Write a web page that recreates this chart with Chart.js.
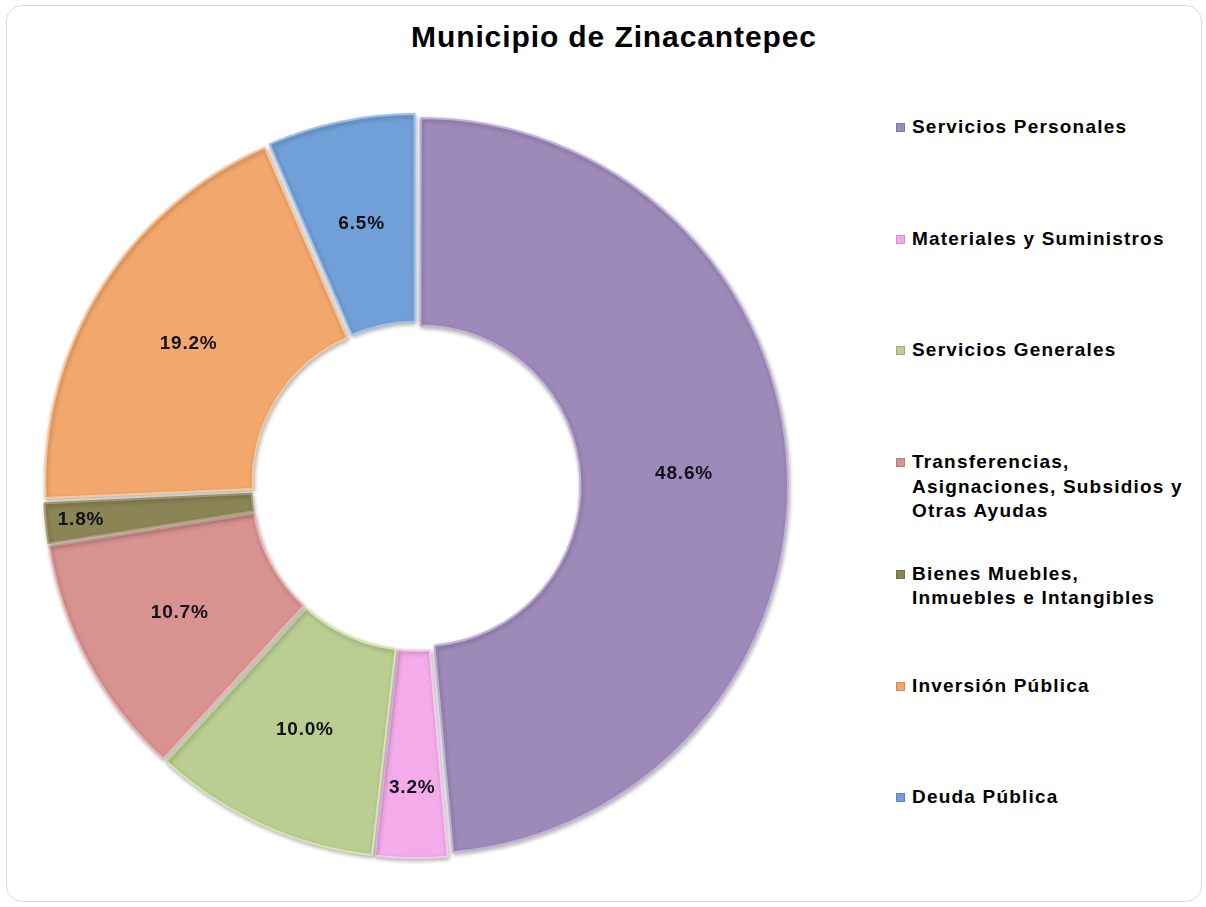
<!DOCTYPE html>
<html lang="es">
<head>
    <meta charset="UTF-8">
    <title>Municipio de Zinacantepec</title>
    <style>
        body {
            margin: 0;
            padding: 0;
            background-color: #ffffff;
            font-family: 'Liberation Sans', Arial, sans-serif;
            overflow: hidden;
        }
        .frame {
            position: absolute;
            left: 6px;
            top: 5px;
            width: 1196px;
            height: 897px;
            border: 1px solid #dcdcd6;
            border-radius: 16px;
            box-sizing: border-box;
        }
        #titulo {
            position: absolute;
            left: 0;
            width: 1228px;
            top: 20px;
            text-align: center;
            font-size: 30px;
            font-weight: bold;
            letter-spacing: 0.9px;
            color: #000;
        }
        #grafica {
            position: absolute;
            left: 0;
            top: 0;
        }
        #leyenda {
            position: absolute;
            left: 896px;
            top: 0;
        }
        .item {
            position: absolute;
            left: 0;
            width: 310px;
            font-size: 19px;
            font-weight: bold;
            letter-spacing: 1.2px;
            line-height: 24.5px;
            color: #000;
            white-space: nowrap;
        }
        .item .marca {
            position: absolute;
            left: 0;
            top: 8px;
            width: 9px;
            height: 9px;
            box-sizing: border-box;
            border: 1px solid rgba(0,0,0,0.15);
        }
        .item .texto {
            position: absolute;
            left: 16px;
            top: 0;
        }
    </style>
</head>
<body>
    <div class="frame"></div>
    <div id="titulo"></div>
    <canvas id="grafica" width="840" height="907"></canvas>
    <div id="leyenda"></div>

    <script src="https://cdn.jsdelivr.net/npm/chart.js"></script>
    <script>
        // Datos de la grafica
        const titulo = 'Municipio de Zinacantepec';
        const categorias = [
            ['Servicios Personales'],
            ['Materiales y Suministros'],
            ['Servicios Generales'],
            ['Transferencias,', 'Asignaciones, Subsidios y', 'Otras Ayudas'],
            ['Bienes Muebles,', 'Inmuebles e Intangibles'],
            ['Inversión Pública'],
            ['Deuda Pública']
        ];
        const porcentajes = [48.6, 3.2, 10.0, 10.7, 1.8, 19.2, 6.5];
        const colores = ['#9e8ab9', '#f3abe9', '#bbce91', '#d89290', '#8b8455', '#f2a76c', '#719fd7'];
        const bordes = ['#c2b0dc', '#f9c8f2', '#d6e6b0', '#ecb3b1', '#a9a070', '#f8c79e', '#9cc0ec'];

        // separacion deseada de cada rebanada, en pixeles
        const separacion = 8;

        document.getElementById('titulo').textContent = titulo;

        // Leyenda en HTML (texto en varias lineas)
        const leyenda = document.getElementById('leyenda');
        categorias.forEach(function(lineas, i) {
            const item = document.createElement('div');
            item.className = 'item';
            item.style.top = (115 + i * 111.7) + 'px';
            const marca = document.createElement('span');
            marca.className = 'marca';
            marca.style.backgroundColor = colores[i];
            const texto = document.createElement('span');
            texto.className = 'texto';
            texto.innerHTML = lineas.join('<br>');
            item.appendChild(marca);
            item.appendChild(texto);
            leyenda.appendChild(item);
        });

        // Chart.js v4 desplaza offset/4 * (1 + fix); se corrige para que todas se separen igual
        function offsetArco(c) {
            const total = porcentajes.reduce(function(a, b) { return a + b; }, 0);
            const circ = porcentajes[c.dataIndex] / total * Math.PI * 2;
            const fix = 1 - Math.sin(Math.min(Math.PI, circ));
            return 4 * separacion / (1 + fix);
        }

        // Sombra suave para las rebanadas
        const sombra = {
            id: 'sombra',
            beforeDatasetsDraw(chart) {
                const ctx = chart.ctx;
                ctx.save();
                ctx.shadowColor = 'rgba(0,0,0,0.28)';
                ctx.shadowBlur = 4;
                ctx.shadowOffsetX = 1;
                ctx.shadowOffsetY = 2;
            },
            afterDatasetsDraw(chart) {
                chart.ctx.restore();
            }
        };

        // Etiquetas de porcentaje
        const etiquetas = {
            id: 'etiquetas',
            afterDatasetsDraw(chart) {
                const ctx = chart.ctx;
                const meta = chart.getDatasetMeta(0);
                ctx.save();
                ctx.font = 'bold 19px "Liberation Sans", Arial, sans-serif';
                if ('letterSpacing' in ctx) ctx.letterSpacing = '0.8px';
                ctx.fillStyle = '#10101c';
                ctx.textAlign = 'center';
                ctx.textBaseline = 'middle';
                meta.data.forEach(function(arc, i) {
                    const p = arc.getProps(['x', 'y', 'startAngle', 'endAngle', 'innerRadius', 'outerRadius']);
                    const v = porcentajes[i];
                    // las rebanadas chicas llevan la etiqueta hacia fuera
                    const f = v < 2.5 ? 0.83 : (v < 5 ? 0.66 : 0.5);
                    const medio = (p.startAngle + p.endAngle) / 2;
                    const r = p.innerRadius + f * (p.outerRadius - p.innerRadius) + separacion;
                    ctx.fillText(v.toFixed(1) + '%', p.x + Math.cos(medio) * r, p.y + Math.sin(medio) * r);
                });
                ctx.restore();
            }
        };

        const ctx = document.getElementById('grafica').getContext('2d');
        new Chart(ctx, {
            type: 'doughnut',
            data: {
                labels: categorias.map(function(l) { return l.join(' '); }),
                datasets: [{
                    data: porcentajes,
                    backgroundColor: colores,
                    borderColor: bordes,
                    borderWidth: 2,
                    offset: offsetArco,
                    hoverOffset: 0
                }]
            },
            options: {
                responsive: false,
                animation: false,
                radius: 364,
                cutout: '43%',
                layout: {
                    padding: { top: 65, left: 0, right: 8, bottom: 0 }
                },
                plugins: {
                    legend: { display: false },
                    title: { display: false },
                    tooltip: { enabled: false }
                },
                events: []
            },
            plugins: [sombra, etiquetas]
        });
    </script>
</body>
</html>
